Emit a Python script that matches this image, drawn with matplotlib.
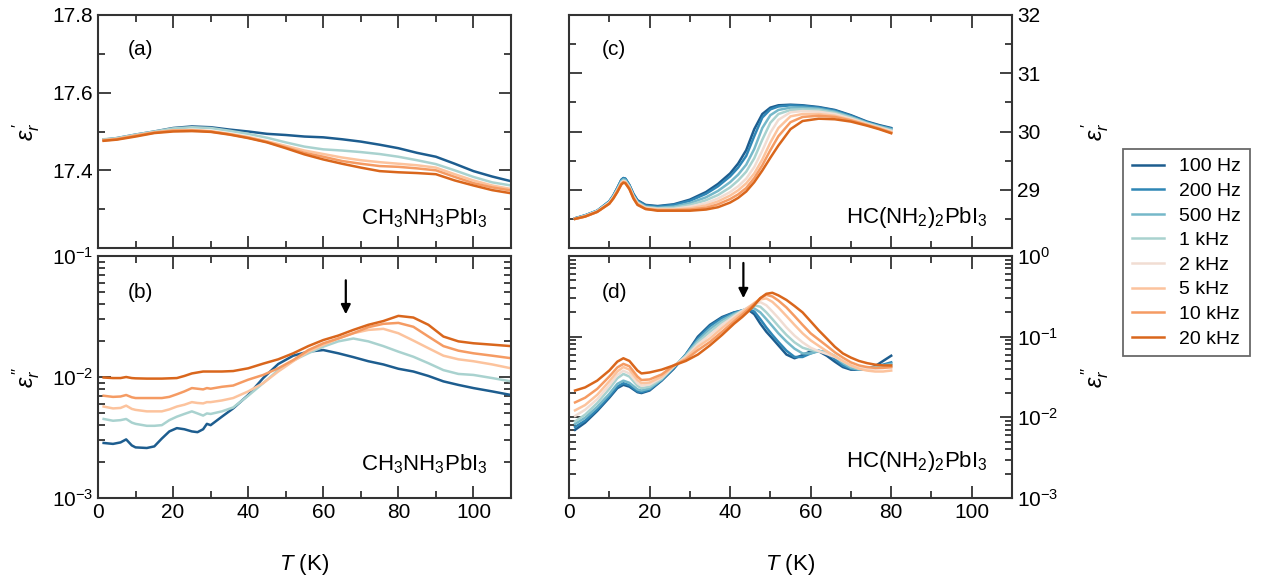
import numpy as np
import matplotlib
matplotlib.use('Agg')
import matplotlib.pyplot as plt
from matplotlib.ticker import MultipleLocator, LogLocator, NullFormatter, FixedLocator, FixedFormatter

plt.rcParams['font.family'] = ['Liberation Sans', 'DejaVu Sans']
plt.rcParams['mathtext.fontset'] = 'custom'
plt.rcParams['mathtext.rm'] = 'Liberation Sans'
plt.rcParams['mathtext.it'] = 'Liberation Sans:italic'
plt.rcParams['mathtext.default'] = 'regular'

freqs = ['100 Hz', '200 Hz', '500 Hz', '1 kHz', '2 kHz', '5 kHz', '10 kHz', '20 kHz']
colors = ['#1d5d8f', '#2f86b5', '#75b8c9', '#a9d2cf', '#f1ddd3', '#fcc39d', '#f59b63', '#d9661c']
left_idx = [0, 3, 5, 6, 7]   # frequencies shown for CH3NH3PbI3

# ---- (a) CH3NH3PbI3, eps' ----
T_a = [1.5, 5, 10, 15, 20, 25, 30, 35, 40, 45, 50, 55, 60, 65, 70, 75, 80, 85, 90, 95, 100, 105, 110]
eps1_a = [
    [17.479, 17.483, 17.492, 17.500, 17.509, 17.513, 17.511, 17.505, 17.500, 17.494, 17.491, 17.487,
     17.485, 17.480, 17.474, 17.466, 17.457, 17.445, 17.435, 17.417, 17.398, 17.384, 17.372],
    [17.480, 17.483, 17.492, 17.500, 17.508, 17.511, 17.509, 17.502, 17.494, 17.484, 17.472, 17.461,
     17.454, 17.451, 17.447, 17.442, 17.435, 17.426, 17.416, 17.400, 17.383, 17.369, 17.361],
    [17.478, 17.481, 17.490, 17.498, 17.503, 17.504, 17.501, 17.494, 17.486, 17.475, 17.463, 17.451,
     17.442, 17.433, 17.426, 17.421, 17.417, 17.413, 17.407, 17.390, 17.374, 17.361, 17.352],
    [17.477, 17.480, 17.489, 17.497, 17.502, 17.503, 17.500, 17.493, 17.484, 17.473, 17.459, 17.445,
     17.435, 17.424, 17.417, 17.411, 17.409, 17.405, 17.400, 17.383, 17.367, 17.356, 17.348],
    [17.476, 17.479, 17.487, 17.496, 17.500, 17.501, 17.499, 17.492, 17.483, 17.472, 17.457, 17.441,
     17.428, 17.417, 17.407, 17.398, 17.395, 17.393, 17.390, 17.374, 17.361, 17.349, 17.341],
]

# ---- (b) CH3NH3PbI3, eps'' ----
T_b = [1.5, 4, 6, 7.5, 9, 10, 13, 15, 17, 19, 21, 23, 25, 26.5, 28, 29, 30, 33, 36, 40, 44, 48, 52,
       56, 60, 64, 68, 72, 76, 80, 84, 88, 92, 96, 100, 105, 110]
eps2_b = [
    [2.85e-3, 2.8e-3, 2.88e-3, 3.05e-3, 2.72e-3, 2.62e-3, 2.59e-3, 2.67e-3, 3.1e-3, 3.55e-3, 3.78e-3,
     3.7e-3, 3.55e-3, 3.5e-3, 3.7e-3, 4.1e-3, 4.0e-3, 4.7e-3, 5.5e-3, 7.1e-3, 9.8e-3, 1.28e-2, 1.5e-2,
     1.62e-2, 1.67e-2, 1.57e-2, 1.46e-2, 1.35e-2, 1.27e-2, 1.17e-2, 1.11e-2, 1.02e-2, 9.2e-3, 8.6e-3,
     8.1e-3, 7.6e-3, 7.1e-3],
    [4.5e-3, 4.35e-3, 4.4e-3, 4.5e-3, 4.2e-3, 4.1e-3, 3.95e-3, 3.95e-3, 4.0e-3, 4.4e-3, 4.7e-3,
     4.95e-3, 5.2e-3, 5.0e-3, 4.8e-3, 5.0e-3, 4.95e-3, 5.2e-3, 5.6e-3, 7.0e-3, 8.9e-3, 1.14e-2, 1.37e-2,
     1.57e-2, 1.78e-2, 1.97e-2, 2.08e-2, 1.97e-2, 1.8e-2, 1.62e-2, 1.47e-2, 1.3e-2, 1.14e-2, 1.06e-2,
     1.04e-2, 9.8e-3, 9.2e-3],
    [5.7e-3, 5.5e-3, 5.55e-3, 5.8e-3, 5.45e-3, 5.35e-3, 5.2e-3, 5.2e-3, 5.2e-3, 5.4e-3, 5.7e-3,
     5.9e-3, 6.2e-3, 6.1e-3, 6.05e-3, 6.2e-3, 6.2e-3, 6.4e-3, 6.7e-3, 7.6e-3, 8.9e-3, 1.11e-2, 1.35e-2,
     1.62e-2, 1.84e-2, 2.08e-2, 2.3e-2, 2.45e-2, 2.5e-2, 2.3e-2, 2.0e-2, 1.73e-2, 1.5e-2, 1.4e-2,
     1.35e-2, 1.27e-2, 1.18e-2],
    [7.0e-3, 6.85e-3, 6.9e-3, 7.1e-3, 6.8e-3, 6.7e-3, 6.7e-3, 6.7e-3, 6.7e-3, 6.85e-3, 7.2e-3,
     7.6e-3, 8.1e-3, 8.0e-3, 7.9e-3, 8.1e-3, 8.0e-3, 8.3e-3, 8.5e-3, 9.5e-3, 1.04e-2, 1.18e-2, 1.38e-2,
     1.67e-2, 1.9e-2, 2.08e-2, 2.3e-2, 2.58e-2, 2.75e-2, 2.8e-2, 2.6e-2, 2.16e-2, 1.8e-2, 1.65e-2,
     1.57e-2, 1.5e-2, 1.43e-2],
    [9.9e-3, 9.8e-3, 9.8e-3, 1.0e-2, 9.8e-3, 9.75e-3, 9.7e-3, 9.7e-3, 9.7e-3, 9.75e-3, 9.8e-3,
     1.02e-2, 1.07e-2, 1.09e-2, 1.11e-2, 1.11e-2, 1.11e-2, 1.11e-2, 1.12e-2, 1.18e-2, 1.29e-2, 1.4e-2,
     1.57e-2, 1.8e-2, 2.02e-2, 2.2e-2, 2.45e-2, 2.7e-2, 2.9e-2, 3.2e-2, 3.1e-2, 2.7e-2, 2.16e-2,
     1.97e-2, 1.9e-2, 1.85e-2, 1.8e-2],
]

# ---- (c) HC(NH2)2PbI3, eps' ----
T_c = [1.5, 4, 7, 10, 11, 12, 13, 13.5, 14, 15, 16, 17, 19, 22, 26, 30, 34, 37, 40, 42, 44, 46, 48,
       50, 52, 55, 58, 62, 66, 70, 74, 77, 80]
eps1_c = [
    [28.51, 28.56, 28.64, 28.80, 28.90, 29.03, 29.17, 29.20, 29.19, 29.08, 28.93, 28.82, 28.74, 28.72,
     28.75, 28.83, 28.96, 29.10, 29.28, 29.45, 29.68, 30.04, 30.30, 30.41, 30.45, 30.46, 30.45, 30.42,
     30.37, 30.28, 30.17, 30.11, 30.06],
    [28.51, 28.56, 28.64, 28.80, 28.90, 29.03, 29.17, 29.20, 29.19, 29.08, 28.92, 28.81, 28.73, 28.71,
     28.74, 28.81, 28.93, 29.06, 29.23, 29.38, 29.58, 29.92, 30.24, 30.38, 30.43, 30.45, 30.44, 30.41,
     30.36, 30.27, 30.16, 30.10, 30.05],
    [28.51, 28.56, 28.64, 28.79, 28.89, 29.01, 29.15, 29.18, 29.17, 29.06, 28.90, 28.79, 28.71, 28.69,
     28.71, 28.77, 28.87, 28.98, 29.13, 29.26, 29.43, 29.70, 30.06, 30.28, 30.37, 30.41, 30.41, 30.39,
     30.34, 30.25, 30.15, 30.09, 30.04],
    [28.50, 28.55, 28.63, 28.78, 28.88, 29.00, 29.13, 29.16, 29.15, 29.05, 28.89, 28.78, 28.70, 28.68,
     28.69, 28.74, 28.82, 28.91, 29.04, 29.16, 29.31, 29.54, 29.86, 30.15, 30.30, 30.37, 30.38, 30.37,
     30.32, 30.24, 30.14, 30.08, 30.02],
    [28.50, 28.55, 28.63, 28.78, 28.87, 28.99, 29.12, 29.15, 29.14, 29.04, 28.88, 28.77, 28.69, 28.67,
     28.67, 28.71, 28.77, 28.85, 28.96, 29.06, 29.19, 29.39, 29.67, 29.98, 30.20, 30.33, 30.35, 30.34,
     30.30, 30.22, 30.13, 30.07, 30.01],
    [28.50, 28.54, 28.62, 28.77, 28.86, 28.98, 29.11, 29.14, 29.13, 29.03, 28.87, 28.76, 28.68, 28.66,
     28.66, 28.68, 28.73, 28.80, 28.90, 28.99, 29.11, 29.28, 29.52, 29.81, 30.06, 30.26, 30.30, 30.30,
     30.27, 30.20, 30.12, 30.06, 29.99],
    [28.50, 28.54, 28.62, 28.76, 28.85, 28.97, 29.10, 29.13, 29.12, 29.02, 28.86, 28.75, 28.67, 28.65,
     28.65, 28.66, 28.69, 28.75, 28.84, 28.92, 29.03, 29.20, 29.42, 29.68, 29.92, 30.16, 30.25, 30.27,
     30.25, 30.19, 30.11, 30.05, 29.98],
    [28.50, 28.54, 28.62, 28.76, 28.85, 28.96, 29.09, 29.12, 29.11, 29.01, 28.85, 28.74, 28.67, 28.64,
     28.64, 28.64, 28.66, 28.70, 28.78, 28.86, 28.97, 29.13, 29.33, 29.55, 29.76, 30.04, 30.18, 30.22,
     30.21, 30.17, 30.10, 30.04, 29.97],
]

# ---- (d) HC(NH2)2PbI3, eps'' ----
T_d = [1.5, 4, 7, 10, 12, 13.5, 15, 17, 18, 20, 23, 26, 29, 32, 35, 38, 41, 43, 44.5, 46, 47.5, 49,
       50.5, 52, 54, 56, 58, 60, 62, 64, 66, 68, 70, 72, 74, 76, 78, 80]
eps2_d = [
    [0.0070, 0.0086, 0.0120, 0.0175, 0.0230, 0.0253, 0.0240, 0.0205, 0.0200, 0.0215, 0.0285, 0.0400,
     0.0600, 0.100, 0.140, 0.175, 0.200, 0.210, 0.216, 0.190, 0.145, 0.115, 0.095, 0.078, 0.060, 0.054,
     0.059, 0.066, 0.066, 0.058, 0.049, 0.042, 0.039, 0.039, 0.040, 0.043, 0.050, 0.058],
    [0.0076, 0.0091, 0.0125, 0.0182, 0.0240, 0.0265, 0.0250, 0.0210, 0.0205, 0.0220, 0.0290, 0.0410,
     0.0600, 0.095, 0.135, 0.170, 0.198, 0.212, 0.220, 0.205, 0.165, 0.130, 0.105, 0.086, 0.067, 0.056,
     0.056, 0.062, 0.067, 0.063, 0.053, 0.044, 0.040, 0.039, 0.040, 0.042, 0.045, 0.048],
    [0.0083, 0.0099, 0.0135, 0.0195, 0.0260, 0.0285, 0.0268, 0.0222, 0.0215, 0.0228, 0.0295, 0.0420,
     0.0590, 0.090, 0.125, 0.160, 0.192, 0.210, 0.222, 0.224, 0.200, 0.165, 0.135, 0.110, 0.087, 0.071,
     0.062, 0.062, 0.066, 0.065, 0.057, 0.047, 0.041, 0.039, 0.040, 0.042, 0.044, 0.046],
    [0.0089, 0.0108, 0.0150, 0.0225, 0.0305, 0.0345, 0.0320, 0.0245, 0.0230, 0.0240, 0.0300, 0.0425,
     0.0580, 0.085, 0.115, 0.150, 0.185, 0.210, 0.228, 0.245, 0.235, 0.200, 0.165, 0.135, 0.105, 0.085,
     0.073, 0.068, 0.066, 0.064, 0.058, 0.049, 0.043, 0.040, 0.040, 0.041, 0.042, 0.043],
    [0.0104, 0.0124, 0.0168, 0.0250, 0.0335, 0.0378, 0.0350, 0.0265, 0.0246, 0.0255, 0.0310, 0.0430,
     0.0560, 0.080, 0.105, 0.140, 0.178, 0.208, 0.232, 0.255, 0.268, 0.245, 0.205, 0.170, 0.130, 0.103,
     0.085, 0.073, 0.066, 0.061, 0.056, 0.050, 0.044, 0.041, 0.040, 0.040, 0.041, 0.041],
    [0.0122, 0.0142, 0.0190, 0.0280, 0.0370, 0.0420, 0.0390, 0.0290, 0.0265, 0.0270, 0.0320, 0.0435,
     0.0540, 0.075, 0.095, 0.128, 0.168, 0.200, 0.230, 0.262, 0.290, 0.298, 0.270, 0.230, 0.180, 0.140,
     0.110, 0.090, 0.077, 0.066, 0.057, 0.050, 0.044, 0.040, 0.038, 0.037, 0.037, 0.038],
    [0.0153, 0.0175, 0.0225, 0.0320, 0.0415, 0.0460, 0.0430, 0.0320, 0.0290, 0.0295, 0.0340, 0.0440,
     0.0520, 0.068, 0.086, 0.115, 0.155, 0.188, 0.218, 0.255, 0.300, 0.330, 0.315, 0.280, 0.230, 0.180,
     0.140, 0.110, 0.092, 0.077, 0.064, 0.055, 0.048, 0.044, 0.042, 0.041, 0.041, 0.042],
    [0.0215, 0.0235, 0.0285, 0.0380, 0.0490, 0.0540, 0.0500, 0.0380, 0.0350, 0.0360, 0.0390, 0.0440,
     0.0500, 0.060, 0.078, 0.105, 0.145, 0.175, 0.205, 0.245, 0.300, 0.340, 0.350, 0.325, 0.285, 0.240,
     0.200, 0.155, 0.120, 0.095, 0.075, 0.062, 0.055, 0.050, 0.047, 0.045, 0.044, 0.044],
]

# arrows marking the transition
arrow_b = (66, 0.063, 0.033)
arrow_d = (43.3, 0.82, 0.30)

W, H = 1270, 579
fig = plt.figure(figsize=(W / 100, H / 100), dpi=100)

def box(x0, y0, x1, y1):
    return [x0 / W, 1 - y1 / H, (x1 - x0) / W, (y1 - y0) / H]

ax_a = fig.add_axes(box(98, 15, 511, 248))
ax_b = fig.add_axes(box(98, 256, 511, 498))
ax_c = fig.add_axes(box(569, 15, 1012, 248))
ax_d = fig.add_axes(box(569, 256, 1012, 498))

spine_col = '#333333'
for ax in (ax_a, ax_b, ax_c, ax_d):
    for s in ax.spines.values():
        s.set_color(spine_col)
        s.set_linewidth(1.5)
    ax.set_xlim(0, 110)
    ax.xaxis.set_major_locator(MultipleLocator(20))
    ax.xaxis.set_minor_locator(MultipleLocator(10))
    ax.tick_params(which='both', direction='in', top=True, bottom=True, left=True, right=True,
                   color=spine_col, width=1.3, labelsize=15)
    ax.tick_params(which='major', length=9)
    ax.tick_params(which='minor', length=5)

lw = 1.8
for k, i in enumerate(left_idx):
    ax_a.plot(T_a, eps1_a[k], color=colors[i], lw=lw)
    ax_b.plot(T_b, eps2_b[k], color=colors[i], lw=lw)
handles = []
for i in range(len(freqs)):
    ax_c.plot(T_c, eps1_c[i], color=colors[i], lw=lw)
    h, = ax_d.plot(T_d, eps2_d[i], color=colors[i], lw=lw, label=freqs[i])
    handles.append(h)

# (a)
ax_a.set_ylim(17.2, 17.8)
ax_a.yaxis.set_major_locator(FixedLocator([17.2, 17.4, 17.6, 17.8]))
ax_a.yaxis.set_major_formatter(FixedFormatter(['', '17.4', '17.6', '17.8']))
ax_a.yaxis.set_minor_locator(MultipleLocator(0.1))
ax_a.tick_params(labelbottom=False)

# (b)
ax_b.set_yscale('log')
ax_b.set_ylim(1e-3, 1e-1)
ax_b.yaxis.set_minor_locator(LogLocator(base=10, subs=np.arange(2, 10)))
ax_b.yaxis.set_minor_formatter(NullFormatter())

# (c)
ax_c.set_ylim(28, 32)
ax_c.yaxis.set_major_locator(FixedLocator([28, 29, 30, 31, 32]))
ax_c.yaxis.set_major_formatter(FixedFormatter(['', '29', '30', '31', '32']))
ax_c.yaxis.set_minor_locator(MultipleLocator(0.5))
ax_c.tick_params(labelbottom=False, labelleft=False, labelright=True)

# (d)
ax_d.set_yscale('log')
ax_d.set_ylim(1e-3, 1e0)
ax_d.yaxis.set_minor_locator(LogLocator(base=10, subs=np.arange(2, 10)))
ax_d.yaxis.set_minor_formatter(NullFormatter())
ax_d.tick_params(labelleft=False, labelright=True)

for ax in (ax_b, ax_d):
    ax.set_xlabel(r'$\mathit{T}$ (K)', fontsize=16, labelpad=22)

lab1 = r'$\mathit{\varepsilon}_{\mathit{r}}^{\,\prime}$'
lab2 = r'$\mathit{\varepsilon}_{\mathit{r}}^{\,\prime\prime}$'
ax_a.set_ylabel(lab1, fontsize=17)
ax_b.set_ylabel(lab2, fontsize=17)
for ax in (ax_c, ax_d):
    ax.yaxis.set_label_position('right')
ax_c.set_ylabel(lab1, fontsize=17, rotation=90)
ax_d.set_ylabel(lab2, fontsize=17, rotation=90)
for ax, xc in ((ax_a, -0.174), (ax_b, -0.174), (ax_c, 1.187), (ax_d, 1.187)):
    ax.yaxis.label.set_va('center')
    ax.yaxis.label.set_ha('center')
    ax.yaxis.set_label_coords(xc, 0.5)

for ax, tag in ((ax_a, '(a)'), (ax_b, '(b)'), (ax_c, '(c)'), (ax_d, '(d)')):
    ax.text(0.073, 0.85, tag, transform=ax.transAxes, fontsize=15, va='center', ha='left')

mapi = r'CH$_3$NH$_3$PbI$_3$'
fapi = r'HC(NH$_2$)$_2$PbI$_3$'
ax_a.text(0.944, 0.13, mapi, transform=ax_a.transAxes, fontsize=16, ha='right', va='center')
ax_b.text(0.944, 0.14, mapi, transform=ax_b.transAxes, fontsize=16, ha='right', va='center')
ax_c.text(0.944, 0.13, fapi, transform=ax_c.transAxes, fontsize=16, ha='right', va='center')
ax_d.text(0.944, 0.15, fapi, transform=ax_d.transAxes, fontsize=16, ha='right', va='center')

for ax, (xa, y0, y1) in ((ax_b, arrow_b), (ax_d, arrow_d)):
    ax.annotate('', xy=(xa, y1), xytext=(xa, y0),
                arrowprops=dict(arrowstyle='-|>', color='k', lw=1.6, mutation_scale=14,
                                shrinkA=0, shrinkB=0))

leg = fig.legend(handles, freqs, loc='upper left', bbox_to_anchor=(1123 / W, 1 - 149 / H),
                 borderaxespad=0, fontsize=14, frameon=True, fancybox=False,
                 edgecolor='#444444', handlelength=1.65, handletextpad=0.8,
                 labelspacing=0.36, borderpad=0.45)
leg.get_frame().set_linewidth(1.3)

fig.savefig('out.png', dpi=100)
